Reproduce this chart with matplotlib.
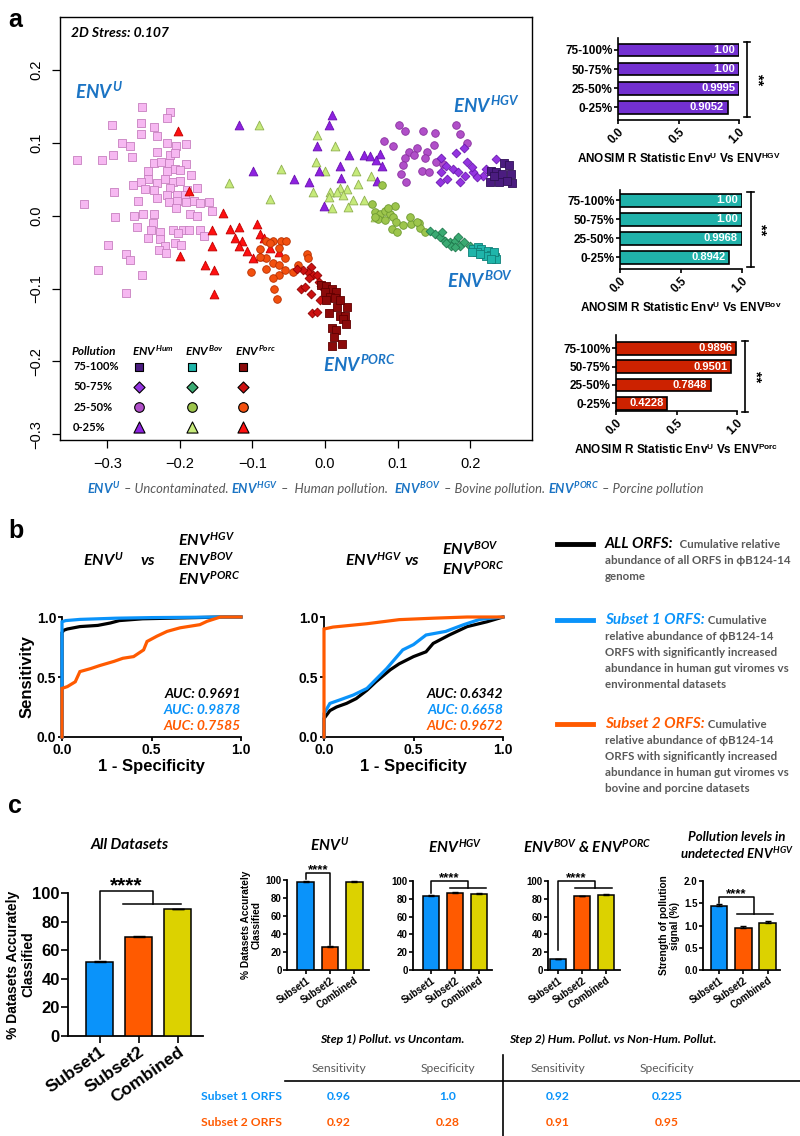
import matplotlib
matplotlib.use("Agg")
import matplotlib.pyplot as plt
import numpy as np

plt.rcParams["font.family"] = ["Liberation Sans", "DejaVu Sans"]
plt.rcParams["mathtext.fontset"] = "custom"
plt.rcParams["mathtext.it"] = "Lato:bold:italic"
plt.rcParams["mathtext.rm"] = "Liberation Sans:bold"
plt.rcParams["mathtext.bf"] = "Liberation Sans:bold"

# ---------------- data: panel a (nMDS) ----------------
unc_x = [-0.252, -0.213, -0.217, -0.293, -0.254, -0.235, -0.254, -0.231, -0.280, -0.269,
         -0.217, -0.205, -0.191, -0.292, -0.266, -0.232, -0.213, -0.206, -0.342, -0.307,
         -0.235, -0.226, -0.215, -0.191, -0.206, -0.244, -0.217, -0.200, -0.184, -0.244,
         -0.254, -0.264, -0.232, -0.220, -0.209, -0.200, -0.248, -0.236, -0.213, -0.190,
         -0.176, -0.291, -0.232, -0.218, -0.204, -0.193,
         -0.332, -0.257, -0.215, -0.204, -0.191, -0.181, -0.172, -0.160, -0.155, -0.205,
         -0.186, -0.177, -0.289, -0.263, -0.251, -0.235, -0.237, -0.259, -0.240, -0.227,
         -0.209, -0.196, -0.187, -0.172, -0.167, -0.244, -0.227, -0.202, -0.299, -0.220,
         -0.206, -0.199, -0.274, -0.268, -0.228, -0.219, -0.312, -0.252, -0.274]
unc_y = [0.149, 0.143, 0.134, 0.125, 0.128, 0.122, 0.112, 0.110, 0.100, 0.096,
         0.100, 0.096, 0.098, 0.083, 0.081, 0.087, 0.084, 0.086, 0.077, 0.077,
         0.073, 0.074, 0.073, 0.071, 0.064, 0.061, 0.061, 0.063, 0.056, 0.051,
         0.047, 0.042, 0.045, 0.050, 0.047, 0.048, 0.037, 0.035, 0.038, 0.036,
         0.038, 0.032, 0.024, 0.029, 0.028, 0.028,
         0.016, 0.020, 0.019, 0.020, 0.019, 0.020, 0.018, 0.019, 0.007, 0.010,
         0.003, 0.000, -0.002, 0.000, 0.003, 0.003, -0.010, -0.016, -0.020, -0.022,
         -0.020, -0.020, -0.020, -0.019, -0.028, -0.031, -0.032, -0.023, -0.040, -0.041,
         -0.038, -0.040, -0.052, -0.061, -0.047, -0.051, -0.074, -0.081, -0.106]

porc0_x = [-0.203, -0.187, -0.141, -0.156, -0.131, -0.118, -0.094, -0.089, -0.124, -0.115, -0.119,
           -0.155, -0.108, -0.099, -0.090, -0.076, -0.064, -0.084, -0.200, -0.165, -0.153, -0.153]
porc0_y = [0.117, 0.034, 0.004, -0.019, -0.018, -0.016, -0.011, -0.025, -0.031, -0.035, -0.041,
           -0.042, -0.049, -0.058, -0.055, -0.044, -0.050, -0.031, -0.055, -0.067, -0.075, -0.108]
hum0_x = [-0.118, 0.010, 0.005, -0.099, -0.043, -0.022, -0.011, -0.009, 0.020, 0.022, 0.033,
          0.054, 0.062, 0.076, 0.070, 0.078, 0.071, -0.001]
hum0_y = [0.124, 0.139, 0.125, 0.062, 0.050, 0.046, 0.096, 0.062, 0.069, 0.052, 0.084,
          0.083, 0.082, 0.085, 0.076, 0.068, 0.048, 0.014]
bov0_x = [-0.091, -0.011, 0.014, -0.012, 0.000, -0.060, 0.042, -0.132, -0.016, 0.007, 0.021, 0.030,
          0.045, 0.063, -0.076, 0.006, 0.017, 0.025, 0.038, 0.054, 0.010, 0.032, 0.069]
bov0_y = [0.125, 0.111, 0.096, 0.074, 0.061, 0.064, 0.062, 0.045, 0.033, 0.033, 0.038, 0.037,
          0.043, 0.054, 0.023, 0.026, 0.032, 0.028, 0.022, 0.022, 0.011, 0.012, -0.002]
bov25_x = [0.078, 0.064, 0.069, 0.076, 0.082, 0.089, 0.096, 0.073, 0.082, 0.094, 0.098,
           0.092, 0.108, 0.119, 0.117, 0.129, 0.131, 0.138, 0.099, 0.126, 0.069, 0.087]
bov25_y = [0.042, 0.016, 0.005, 0.003, 0.006, 0.003, 0.013, -0.004, -0.006, -0.002, -0.008,
           -0.018, -0.013, -0.012, -0.002, -0.010, -0.017, -0.022, -0.022, -0.008, -0.002, 0.010]
bov50_x = [0.144, 0.151, 0.158, 0.165, 0.172, 0.179, 0.183, 0.186, 0.174, 0.167, 0.192, 0.199, 0.161, 0.179]
bov50_y = [-0.021, -0.025, -0.029, -0.034, -0.036, -0.035, -0.029, -0.041, -0.041, -0.038, -0.036, -0.041, -0.022, -0.043]
bov75_x = [0.204, 0.211, 0.215, 0.209, 0.218, 0.225, 0.229, 0.234, 0.236, 0.222, 0.214, 0.232, 0.202, 0.228]
bov75_y = [-0.045, -0.043, -0.045, -0.050, -0.052, -0.049, -0.054, -0.057, -0.060, -0.055, -0.053, -0.050, -0.050, -0.059]
hum25_x = [0.102, 0.180, 0.110, 0.135, 0.152, 0.186, 0.081, 0.094, 0.196, 0.150, 0.126, 0.115,
           0.140, 0.122, 0.110, 0.137, 0.108, 0.133, 0.143, 0.105, 0.112, 0.153, 0.162]
hum25_y = [0.125, 0.124, 0.116, 0.117, 0.114, 0.112, 0.102, 0.096, 0.100, 0.097, 0.093, 0.087,
           0.087, 0.083, 0.080, 0.080, 0.070, 0.062, 0.060, 0.058, 0.046, 0.074, 0.071]
hum50_x = [0.160, 0.181, 0.192, 0.167, 0.176, 0.159, 0.158, 0.168, 0.186, 0.196, 0.204, 0.217,
           0.193, 0.236, 0.222, 0.183, 0.209, 0.202]
hum50_y = [0.079, 0.086, 0.093, 0.069, 0.064, 0.060, 0.047, 0.051, 0.046, 0.074, 0.060, 0.055,
           0.055, 0.078, 0.064, 0.060, 0.053, 0.067]
hum75_x = [0.247, 0.254, 0.229, 0.236, 0.243, 0.256, 0.227, 0.239, 0.258, 0.250, 0.232]
hum75_y = [0.073, 0.070, 0.062, 0.060, 0.058, 0.058, 0.047, 0.046, 0.045, 0.048, 0.055]
porc25_x = [-0.081, -0.071, -0.060, -0.054, -0.064, -0.089, -0.076, -0.025, -0.024, -0.055, -0.081, -0.071,
            -0.063, -0.081, -0.055, -0.102, -0.064, -0.071, -0.070, -0.066, -0.044, -0.037, -0.089]
porc25_y = [-0.034, -0.034, -0.035, -0.035, -0.044, -0.045, -0.038, -0.052, -0.058, -0.058, -0.058, -0.065,
            -0.067, -0.073, -0.074, -0.077, -0.081, -0.086, -0.101, -0.115, -0.077, -0.067, -0.057]
porc50_x = [-0.020, -0.023, -0.016, -0.011, -0.022, -0.009, -0.033, -0.028, -0.020, -0.005, 0.007,
            -0.007, -0.018, -0.011, -0.030, -0.038]
porc50_y = [-0.070, -0.077, -0.082, -0.081, -0.086, -0.091, -0.100, -0.098, -0.108, -0.096, -0.102,
            -0.116, -0.134, -0.132, -0.075, -0.073]
porc75_x = [-0.005, 0.002, 0.009, 0.015, 0.000, 0.007, 0.014, 0.002, 0.016, 0.030, 0.006, 0.021,
            0.028, 0.025, 0.029, 0.010, 0.015, 0.012, 0.010, 0.024, 0.020]
porc75_y = [-0.095, -0.096, -0.100, -0.105, -0.105, -0.111, -0.113, -0.116, -0.125, -0.126, -0.134, -0.137,
            -0.137, -0.142, -0.149, -0.154, -0.157, -0.167, -0.179, -0.176, -0.116]

levels = ["0-25%", "25-50%", "50-75%", "75-100%"]
anosim_hgv = [0.9052, 0.9995, 1.00, 1.00]
anosim_bov = [0.8942, 0.9968, 1.00, 1.00]
anosim_porc = [0.4228, 0.7848, 0.9501, 0.9896]

# ---------------- data: panel b (ROC) ----------------
roc1_all_fpr = [0, 0, 0.01, 0.03, 0.10, 0.20, 0.27, 0.32, 0.45, 0.60, 0.90, 1.0]
roc1_all_tpr = [0, 0.87, 0.89, 0.90, 0.92, 0.93, 0.95, 0.97, 0.985, 0.99, 1.0, 1.0]
roc1_s1_fpr = [0, 0, 0.02, 0.10, 0.30, 0.50, 0.92, 1.0]
roc1_s1_tpr = [0, 0.96, 0.97, 0.98, 0.99, 0.995, 1.0, 1.0]
roc1_s2_fpr = [0, 0, 0.03, 0.074, 0.10, 0.16, 0.21, 0.29, 0.34, 0.40, 0.456, 0.475, 0.53, 0.587,
               0.66, 0.77, 0.81, 0.885, 1.0]
roc1_s2_tpr = [0, 0.405, 0.42, 0.46, 0.545, 0.57, 0.595, 0.63, 0.656, 0.67, 0.726, 0.796, 0.84, 0.88,
               0.91, 0.936, 0.964, 1.0, 1.0]
roc2_all_fpr = [0, 0, 0.033, 0.07, 0.126, 0.18, 0.24, 0.29, 0.37, 0.42, 0.50, 0.57, 0.61, 0.70, 0.80, 0.91, 1.0]
roc2_all_tpr = [0, 0.154, 0.22, 0.25, 0.28, 0.32, 0.39, 0.46, 0.56, 0.61, 0.67, 0.71, 0.78, 0.85, 0.92, 0.96, 1.0]
roc2_s1_fpr = [0, 0, 0.033, 0.09, 0.164, 0.24, 0.35, 0.44, 0.50, 0.57, 0.68, 0.78, 0.87, 1.0]
roc2_s1_tpr = [0, 0.195, 0.28, 0.31, 0.35, 0.405, 0.57, 0.726, 0.77, 0.85, 0.88, 0.936, 0.98, 1.0]
roc2_s2_fpr = [0, 0, 0.05, 0.24, 0.42, 0.61, 0.80, 1.0]
roc2_s2_tpr = [0, 0.90, 0.916, 0.944, 0.978, 0.99, 1.0, 1.0]
auc1 = ["0.9691", "0.9878", "0.7585"]
auc2 = ["0.6342", "0.6658", "0.9672"]

# ---------------- data: panel c ----------------
groups = ["Subset1", "Subset2", "Combined"]
all_vals, all_err = [51.5, 69.5, 88.5], [0.6, 0.6, 0.6]
envu_vals, envu_err = [98.0, 25.5, 98.0], [0.5, 0.8, 0.5]
hgv_vals, hgv_err = [83.2, 86.5, 85.5], [0.6, 0.6, 0.6]
bp_vals, bp_err = [12.0, 83.0, 84.5], [0.7, 0.6, 0.6]
poll_vals, poll_err = [1.44, 0.95, 1.06], [0.04, 0.04, 0.05]

tbl_cols = ["Sensitivity", "Specificity", "Sensitivity", "Specificity"]
tbl_rows = ["Subset 1 ORFS", "Subset 2 ORFS"]
tbl_vals = [["0.96", "1.0", "0.92", "0.225"], ["0.92", "0.28", "0.91", "0.95"]]

# ---------------- styles ----------------
BLUE, ORANGE, YELLOW = "#0A93FA", "#FF5A00", "#DCD200"
ENVBLUE = "#1B74C4"
GRAY = "#595959"
CAL = ["Lato", "DejaVu Sans"]

W, H = 800, 1136
fig = plt.figure(figsize=(W / 100, H / 100), dpi=100)


def px_axes(x0, y0, x1, y1):
    return fig.add_axes([x0 / W, 1 - y1 / H, (x1 - x0) / W, (y1 - y0) / H])


def ftext(x, y, s, **kw):
    return fig.text(x / W, 1 - y / H, s, **kw)


def chain(x, y, parts, **kw):
    r = fig.canvas.get_renderer()
    for s, style in parts:
        t = ftext(x, y, s, **kw, **style)
        x = t.get_window_extent(renderer=r).x1


def fline(xs, ys, **kw):
    fig.add_artist(plt.Line2D([v / W for v in xs], [1 - v / H for v in ys],
                              transform=fig.transFigure, **kw))


# ================= panel a =================
ftext(8, 20, "a", fontsize=18, fontweight="bold", va="center")
ax = px_axes(60, 17, 532, 440)
groups_a = [
    (unc_x, unc_y, "s", "#F6B8F1", "#C77FC0", 26),
    (porc0_x, porc0_y, "^", "#FF1010", "#C00000", 40),
    (bov0_x, bov0_y, "^", "#C6EA7A", "#90B050", 40),
    (hum0_x, hum0_y, "^", "#8E22E0", "#6A10B0", 40),
    (bov25_x, bov25_y, "o", "#9DC54C", "#6E9A30", 30),
    (hum25_x, hum25_y, "o", "#B04FC8", "#8A30A0", 30),
    (porc25_x, porc25_y, "o", "#F2500F", "#B83000", 30),
    (bov50_x, bov50_y, "D", "#3AAA72", "#1F7A4E", 20),
    (hum50_x, hum50_y, "D", "#9434E0", "#6A18B0", 20),
    (porc50_x, porc50_y, "D", "#CC1111", "#900000", 20),
    (bov75_x, bov75_y, "s", "#1FB5AA", "#108078", 26),
    (hum75_x, hum75_y, "s", "#4B1C80", "#300F58", 26),
    (porc75_x, porc75_y, "s", "#8B0A0A", "#600000", 26),
]
for gx, gy, m, fc, ec, s in groups_a:
    ax.scatter(gx, gy, marker=m, s=s, facecolor=fc, edgecolor=ec, linewidth=0.6, zorder=3)
ax.set_xlim(-0.365, 0.285)
ax.set_ylim(-0.308, 0.273)
ax.set_xticks([-0.3, -0.2, -0.1, 0.0, 0.1, 0.2])
ax.set_yticks([-0.3, -0.2, -0.1, 0.0, 0.1, 0.2])
ax.tick_params(labelsize=10.5, length=6, width=0.9, pad=6)
for lab in ax.get_yticklabels():
    lab.set_rotation(90)
    lab.set_va("center")
for sp in ax.spines.values():
    sp.set_linewidth(1.0)

ax.text(0.023, 0.953, "2D Stress: 0.107", transform=ax.transAxes, fontsize=10,
        family=CAL, fontweight="bold", style="italic")
env_lab = dict(color=ENVBLUE, fontsize=13.5)
ax.text(-0.344, 0.160, "$ENV^{U}$", **env_lab)
ax.text(0.176, 0.142, "$ENV^{HGV}$", **env_lab)
ax.text(0.168, -0.099, "$ENV^{BOV}$", **env_lab)
ax.text(-0.003, -0.214, "$ENV^{PORC}$", **env_lab)

# in-plot legend
ax.text(0.025, 0.21, "Pollution", transform=ax.transAxes, family=CAL, fontweight="bold",
        style="italic", fontsize=8.5, va="center")
col_x = [0.167, 0.280, 0.388]
for hx, name in zip([0.153, 0.265, 0.371], ["$ENV^{Hum}$", "$ENV^{Bov}$", "$ENV^{Porc}$"]):
    ax.text(hx, 0.21, name, transform=ax.transAxes, fontsize=8.5, ha="left", va="center")
row_y = [0.1726, 0.1253, 0.078, 0.0307]
row_names = levels[::-1]
leg_groups = [[groups_a[11], groups_a[8], groups_a[5], groups_a[3]],
              [groups_a[10], groups_a[7], groups_a[4], groups_a[2]],
              [groups_a[12], groups_a[9], groups_a[6], groups_a[1]]]
for ry, rn in zip(row_y, row_names):
    ax.text(0.028, ry, rn, transform=ax.transAxes, family=CAL, fontweight="bold",
            fontsize=8, va="center")
for cx, col in zip(col_x, leg_groups):
    for ry, g in zip(row_y, col):
        ax.scatter([cx], [ry], marker=g[2], s=g[5] * 1.6, facecolor=g[3], edgecolor="black",
                   linewidth=0.8, transform=ax.transAxes, zorder=4)

gray_it = dict(color=GRAY, family=CAL, style="italic")
blue_it = dict(color=ENVBLUE)
chain(87, 489, [("$ENV^{U}$", blue_it), (" \u2013 Uncontaminated. ", gray_it),
                ("$ENV^{HGV}$", blue_it), (" \u2013  Human pollution.  ", gray_it),
                ("$ENV^{BOV}$", blue_it), (" \u2013 Bovine pollution. ", gray_it),
                ("$ENV^{PORC}$", blue_it), (" \u2013 Porcine pollution", gray_it)],
      fontsize=9.4, va="center")


def anosim(box, vals, color, xlabel, ylim):
    a = px_axes(*box)
    pos = np.arange(len(vals))
    a.barh(pos, vals, height=0.68, color=color, edgecolor="black", linewidth=1.2, zorder=3)
    for p, v in zip(pos, vals):
        txt = "1.00" if v >= 1 else f"{v:.4f}"
        a.text(v - 0.03, p, txt, ha="right", va="center", color="white",
               fontweight="bold", fontsize=8)
    a.set_xlim(0, 1.0)
    a.set_ylim(*ylim)
    a.set_yticks(pos)
    a.set_yticklabels(levels, fontweight="bold", fontsize=8.5)
    a.set_xticks([0, 0.5, 1.0])
    a.set_xticklabels(["0.0", "0.5", "1.0"], fontweight="bold", fontsize=8.5,
                      rotation=45, ha="right", rotation_mode="anchor")
    a.spines["top"].set_visible(False)
    a.spines["right"].set_visible(False)
    for sp in ("left", "bottom"):
        a.spines[sp].set_linewidth(1.2)
    a.tick_params(length=3, width=1.2, pad=1)
    a.set_xlabel(xlabel, fontweight="bold", fontsize=8.5, labelpad=4)
    bx = 1.07
    a.plot([bx, bx], [-0.5, 3.4], color="black", lw=1.2, clip_on=False)
    for yy in (-0.5, 3.4):
        a.plot([bx - 0.025, bx + 0.025], [yy, yy], color="black", lw=1.2, clip_on=False)
    a.text(bx + 0.085, 1.45, "**", rotation=270, ha="center", va="center",
           fontweight="bold", fontsize=10.5)
    return a


anosim((618, 38, 739, 120), anosim_hgv, "#7330D0",
       r"ANOSIM R Statistic Env$^{\mathrm{U}}$ Vs ENV$^{\mathrm{HGV}}$", (-0.68, 3.63))
anosim((620, 190, 742, 269), anosim_bov, "#20B2AA",
       r"ANOSIM R Statistic Env$^{\mathrm{U}}$ Vs ENV$^{\mathrm{Bov}}$", (-0.62, 3.53))
anosim((616, 335, 737, 411), anosim_porc, "#CC2200",
       r"ANOSIM R Statistic Env$^{\mathrm{U}}$ Vs ENV$^{\mathrm{Porc}}$", (-0.42, 3.73))

# ================= panel b =================
ftext(8, 531, "b", fontsize=18, fontweight="bold", va="center")


def roc(box, curves, aucs, ylabel):
    a = px_axes(*box)
    for (fx, ty), c in zip(curves, ["black", BLUE, ORANGE]):
        a.plot(fx, ty, color=c, lw=2.3, solid_joinstyle="miter", clip_on=False, zorder=3)
    a.set_xlim(0, 1)
    a.set_ylim(0, 1)
    a.set_xticks([0, 0.5, 1.0])
    a.set_yticks([0, 0.5, 1.0])
    a.set_xticklabels(["0.0", "0.5", "1.0"], fontweight="bold", fontsize=10)
    a.set_yticklabels(["0.0", "0.5", "1.0"], fontweight="bold", fontsize=10)
    a.spines["top"].set_visible(False)
    a.spines["right"].set_visible(False)
    for sp in ("left", "bottom"):
        a.spines[sp].set_linewidth(1.3)
    a.tick_params(length=3, width=1.3, pad=1)
    a.set_xlabel("1 - Specificity", fontweight="bold", fontsize=12, labelpad=2)
    if ylabel:
        a.set_ylabel("Sensitivity", fontweight="bold", fontsize=12, labelpad=2)
    for i, (v, c) in enumerate(zip(aucs, ["black", BLUE, ORANGE])):
        a.text(1.0, 0.36 - i * 0.135, "AUC: " + v, transform=a.transAxes, ha="right",
               va="center", color=c, family=CAL, fontweight="bold", style="italic", fontsize=10)
    return a


roc((62, 617, 241, 737),
    [(roc1_all_fpr, roc1_all_tpr), (roc1_s1_fpr, roc1_s1_tpr), (roc1_s2_fpr, roc1_s2_tpr)],
    auc1, True)
roc((324, 617, 503, 737),
    [(roc2_all_fpr, roc2_all_tpr), (roc2_s1_fpr, roc2_s1_tpr), (roc2_s2_fpr, roc2_s2_tpr)],
    auc2, False)

ttl = dict(fontsize=11.5, va="center")
ftext(83, 560, "$ENV^{U}$", **ttl)
ftext(140, 561, "$vs$", **ttl)
ftext(178, 540, "$ENV^{HGV}$", **ttl)
ftext(178, 560, "$ENV^{BOV}$", **ttl)
ftext(178, 579, "$ENV^{PORC}$", **ttl)
ftext(345, 560, "$ENV^{HGV}$", **ttl)
ftext(404, 561, "$vs$", **ttl)
ftext(442, 549, "$ENV^{BOV}$", **ttl)
ftext(442, 569, "$ENV^{PORC}$", **ttl)

leg_blocks = [
    ("black", "ALL ORFS:", 544, ["  Cumulative relative", "abundance of all ORFS in \u03d5B124-14", "genome"]),
    (BLUE, "Subset 1 ORFS:", 620, [" Cumulative", "relative abundance of \u03d5B124-14",
                                   "ORFS with significantly increased",
                                   "abundance in human gut viromes vs", "environmental datasets"]),
    (ORANGE, "Subset 2 ORFS:", 724, [" Cumulative", "relative abundance of \u03d5B124-14",
                                     "ORFS with significantly increased",
                                     "abundance in human gut viromes vs", "bovine and porcine datasets"]),
]
body = dict(color=GRAY, family=CAL, fontweight="bold", fontsize=8.3)
for c, head, yy, lines in leg_blocks:
    fline([557, 593], [yy, yy], color=c, lw=3.5)
    chain(605, yy, [(head, dict(color=c, family=CAL, fontweight="bold", style="italic", fontsize=11)),
                    (lines[0], body)], va="center")
    for k, ln in enumerate(lines[1:]):
        ftext(605, yy + 16.2 * (k + 1), ln, va="center", **body)

# ================= panel c =================
ftext(8, 806, "c", fontsize=18, fontweight="bold", va="center")
bar_cols = [BLUE, ORANGE, YELLOW]


def cbars(box, vals, errs, xlim, ylim, yticks, fs, ylabel=None, ylfs=7):
    a = px_axes(*box)
    pos = np.arange(3)
    a.bar(pos, vals, width=0.68, color=bar_cols, edgecolor="black", linewidth=1.1, zorder=3,
          yerr=[np.zeros(3), errs], capsize=fs * 0.35,
          error_kw=dict(elinewidth=1.0, capthick=1.0, ecolor="black"))
    a.set_xlim(*xlim)
    a.set_ylim(*ylim)
    a.set_yticks(yticks)
    a.set_xticks(pos)
    a.set_xticklabels(groups, rotation=35, ha="right", rotation_mode="anchor",
                      fontweight="bold", fontsize=fs)
    for lab in a.get_yticklabels():
        lab.set_fontweight("bold")
        lab.set_fontsize(fs)
    a.spines["top"].set_visible(False)
    a.spines["right"].set_visible(False)
    for sp in ("left", "bottom"):
        a.spines[sp].set_linewidth(1.3)
    a.tick_params(length=fs * 0.4, width=1.2, pad=1)
    if ylabel:
        a.set_ylabel(ylabel, fontweight="bold", fontsize=ylfs, labelpad=3, linespacing=1.1)
    return a


def bracket(a, x0, x1, y_top, y_left, y_right, x2a, x2b, fs, txt_dy):
    k = dict(color="black", lw=1.1, clip_on=False)
    a.plot([x0, x0, x1, x1], [y_left, y_top, y_top, y_right], **k)
    a.plot([x2a, x2b], [y_right, y_right], **k)
    a.text((x0 + x1) / 2, y_top + txt_dy, "****", ha="center", va="bottom",
           fontweight="bold", fontsize=fs)


a1 = cbars((68, 893, 203, 1036), all_vals, all_err, (-0.81, 2.65), (0, 100),
           [0, 20, 40, 60, 80, 100], 12.5, "% Datasets Accurately\nClassified", 10)
for lab in a1.get_yticklabels():
    lab.set_fontsize(12)
a1.yaxis.set_label_coords(-0.245, 0.5)
bracket(a1, 0, 1.37, 101.5, 54, 92.5, 0.6, 2.09, 15, -3)

a2 = cbars((287, 880, 369, 970), envu_vals, envu_err, (-0.77, 2.6), (0, 100),
           [0, 20, 40, 60, 80, 100], 7, "% Datasets Accurately\nClassified", 7.3)
bracket(a2, 0, 1, 108, 101, 28, 1, 1, 9.5, -4)

a3 = cbars((413, 881, 492, 970), hgv_vals, hgv_err, (-0.75, 2.54), (0, 100),
           [0, 20, 40, 60, 80, 100], 7)
bracket(a3, 0, 1.54, 100, 86, 92, 0.79, 2.29, 9.5, -4)

a4 = cbars((548, 881, 620, 970), bp_vals, bp_err, (-0.42, 2.58), (0, 100),
           [0, 20, 40, 60, 80, 100], 7)
bracket(a4, 0, 1.54, 100, 22, 92, 0.7, 2.25, 9.5, -4)

a5 = cbars((703, 881, 780, 970), poll_vals, poll_err, (-0.65, 2.5), (0, 2.0),
           [0.0, 0.5, 1.0, 1.5, 2.0], 7, "Strength of pollution\nsignal (%)", 7.3)
a5.set_yticklabels(["0.0", "0.5", "1.0", "1.5", "2.0"], fontweight="bold", fontsize=7)
bracket(a5, 0, 1.43, 1.64, 1.50, 1.26, 0.73, 2.2, 9.5, -0.08)

ctl = dict(fontsize=11, ha="center", va="center", family=CAL, fontweight="bold", style="italic")
ftext(130, 845, "All Datasets", **ctl)
ftext(330, 845, "$ENV^{U}$", fontsize=11, ha="center", va="center")
ftext(455, 847, "$ENV^{HGV}$", fontsize=11, ha="center", va="center")
ftext(587, 847, "$ENV^{BOV}$ & $ENV^{PORC}$", **ctl)
ftext(737, 837, "Pollution levels in", **dict(ctl, fontsize=9.5))
ftext(737, 853, "undetected $ENV^{HGV}$", **dict(ctl, fontsize=9.5))

# table
hdr = dict(family=CAL, fontweight="bold", style="italic", fontsize=8.7, ha="center", va="center")
ftext(392, 1039, "Step 1) Pollut. vs Uncontam.", **hdr)
ftext(613, 1039, "Step 2) Hum. Pollut. vs Non-Hum. Pollut.", **hdr)
col_px = [339, 448, 558, 667]
for cx, name in zip(col_px, tbl_cols):
    ftext(cx, 1068, name, family=CAL, color=GRAY, fontsize=8.7, ha="center", va="center")
fline([285, 800], [1081, 1081], color="black", lw=1.2)
fline([503, 503], [1055, 1136], color="black", lw=1.2)
for ry, name, c, row in zip([1096, 1122], tbl_rows, [BLUE, ORANGE], tbl_vals):
    ftext(201, ry, name, family=CAL, color=c, fontweight="bold", fontsize=8.7, va="center")
    for cx, v in zip(col_px, row):
        ftext(cx, ry, v, family=CAL, color=c, fontweight="bold", fontsize=8.7,
              ha="center", va="center")

fig.savefig("out.png", dpi=100)
